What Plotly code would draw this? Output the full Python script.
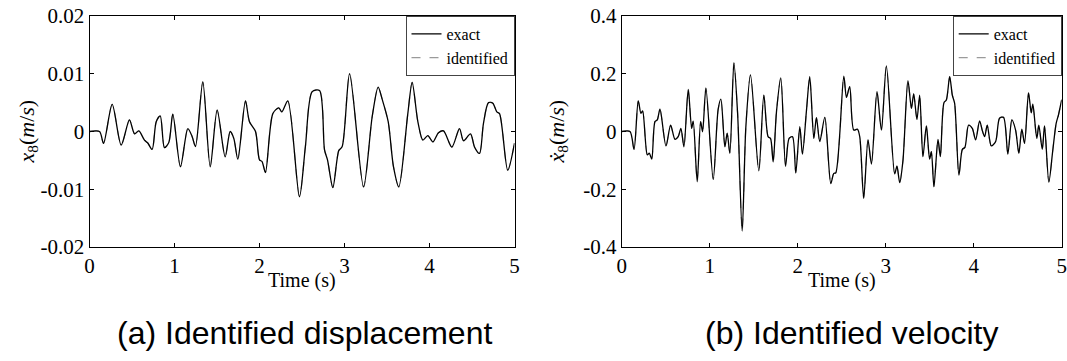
import plotly.graph_objects as go

# ---------------- data ----------------
time_disp = [0, 0.118, 0.165, 0.267, 0.373, 0.47, 0.53, 0.58, 0.647, 0.686, 0.737, 0.785, 0.832, 0.882,
             0.933, 0.98, 1.07, 1.157, 1.208, 1.247, 1.333, 1.42, 1.502, 1.596, 1.655, 1.698, 1.745,
             1.835, 1.882, 1.953, 2.0, 2.03, 2.07, 2.157, 2.227, 2.263, 2.333, 2.47, 2.54, 2.62, 2.706,
             2.765, 2.8, 2.863, 2.933, 2.973, 3.06, 3.224, 3.326, 3.396, 3.443, 3.514, 3.576, 3.639,
             3.745, 3.796, 3.863, 3.922, 3.98, 4.04, 4.106, 4.165, 4.263, 4.353, 4.4, 4.482, 4.53,
             4.588, 4.635, 4.694, 4.745, 4.792, 4.824, 4.92, 5.0]
disp_exact = [0, 0, -0.00204, 0.0047, -0.00234, 0.002, -0.0004, 0.0001, -0.0015, -0.002, -0.0031, 0.0017,
              0.0027, -0.0028, -0.0019, 0.003, -0.0061, 0.0005, -0.0009, -0.0026, 0.0086, -0.0061, 0.0037,
              -0.0044, 0.0, -0.0012, -0.0048, 0.0053, 0.0017, 0.0, -0.0049, -0.0052, -0.0071, 0.0031,
              0.0041, 0.0034, 0.0053, -0.0113, -0.0026, 0.0069, 0.0071, -0.0032, -0.0049, -0.0097,
              -0.0033, -0.0026, 0.01, -0.0096, 0.0026, 0.0077, 0.0056, 0.0017, -0.0061, -0.0096, 0.0031,
              0.0085, 0.0017, -0.0015, -0.0007, -0.0018, -0.0002, 0.0001, -0.0027, 0.0005, -0.0016,
              -0.0004, -0.0027, -0.0038, 0.0014, 0.005, 0.0049, 0.0034, 0.0031, -0.0067, -0.002]
disp_identified = list(disp_exact)

time_vel = [0, 0.094, 0.140, 0.188, 0.219, 0.238, 0.291, 0.313, 0.341, 0.378, 0.404, 0.435, 0.503, 0.556,
            0.605, 0.642, 0.673, 0.707, 0.756, 0.795, 0.813, 0.858, 0.897, 0.919, 0.957, 1.040, 1.096,
            1.127, 1.173, 1.199, 1.229, 1.275, 1.317, 1.369, 1.411, 1.464, 1.558, 1.615, 1.664, 1.691,
            1.721, 1.759, 1.808, 1.862, 1.902, 1.941, 1.978, 2.024, 2.054, 2.100, 2.137, 2.183, 2.213,
            2.251, 2.308, 2.376, 2.410, 2.433, 2.524, 2.554, 2.591, 2.637, 2.679, 2.705, 2.750, 2.799,
            2.838, 2.901, 2.951, 3.008, 3.102, 3.128, 3.159, 3.196, 3.253, 3.292, 3.318, 3.355, 3.386,
            3.423, 3.462, 3.499, 3.519, 3.548, 3.594, 3.621, 3.662, 3.689, 3.727, 3.757, 3.783, 3.832,
            3.871, 3.900, 3.942, 3.984, 4.022, 4.067, 4.098, 4.124, 4.154, 4.200, 4.249, 4.294, 4.339,
            4.388, 4.434, 4.476, 4.513, 4.547, 4.578, 4.623, 4.654, 4.672, 4.717, 4.740, 4.779, 4.805,
            4.854, 4.899, 4.937, 4.963, 5.0]
vel_exact = [0, 0, -0.062, 0.106, 0.063, 0.071, -0.081, -0.075, -0.095, 0.034, 0.040, 0.077, -0.050, 0.022,
             -0.027, -0.018, 0.011, -0.053, 0.146, 0.011, 0.036, -0.174, 0.034, -0.001, 0.150, -0.166,
             0.077, 0.112, -0.053, -0.006, -0.075, 0.238, 0.063, -0.345, 0.017, 0.196, -0.136, 0.126,
             -0.018, -0.024, -0.105, 0.069, 0.186, -0.120, -0.024, -0.018, -0.143, 0.017, -0.078, 0.074,
             0.190, -0.024, 0.048, -0.035, 0.049, -0.180, -0.145, -0.143, 0.192, 0.118, 0.155, 0.005,
             0.008, -0.018, -0.231, -0.029, -0.113, 0.138, 0.005, 0.227, -0.147, -0.120, -0.177, -0.101,
             0.176, 0.080, 0.130, 0.042, 0.126, -0.087, 0.019, -0.096, -0.070, -0.191, -0.027, -0.087,
             0.100, 0.109, 0.190, 0.126, 0.098, -0.151, -0.062, -0.055, 0.022, 0.011, -0.029, 0.037,
             0.003, -0.018, 0.022, -0.050, -0.035, 0.046, 0.049, -0.078, 0.040, 0.005, -0.075, 0.008,
             -0.041, 0.134, 0.065, 0.095, -0.024, 0.022, -0.062, 0.019, -0.175, -0.064, 0.028, 0.057,
             0.110]
vel_identified = list(vel_exact)

x_ticks = [0, 1, 2, 3, 4, 5]
disp_ticks = [-0.02, -0.01, 0, 0.01, 0.02]
disp_ticktext = ["-0.02", "-0.01", "0", "0.01", "0.02"]
vel_ticks = [-0.4, -0.2, 0, 0.2, 0.4]
vel_ticktext = ["-0.4", "-0.2", "0", "0.2", "0.4"]

# ---------------- layout helpers ----------------
W, H = 1067, 361
def px(x):
    return x / W
def py(y):
    return 1 - y / H

SERIF = "Liberation Serif"
SANS = "Liberation Sans"

fig = go.Figure()

line_exact = dict(color="black", width=1.3, shape="spline", smoothing=0.8)
line_ident = dict(color="#9a9a9a", width=1.2, dash="dash", shape="spline", smoothing=0.8)

fig.add_trace(go.Scatter(x=time_disp, y=disp_identified, mode="lines", name="identified",
                         line=line_ident, xaxis="x", yaxis="y", legend="legend", legendrank=2))
fig.add_trace(go.Scatter(x=time_disp, y=disp_exact, mode="lines", name="exact",
                         line=line_exact, xaxis="x", yaxis="y", legend="legend", legendrank=1))
fig.add_trace(go.Scatter(x=time_vel, y=vel_identified, mode="lines", name="identified",
                         line=line_ident, xaxis="x2", yaxis="y2", legend="legend2", legendrank=2))
fig.add_trace(go.Scatter(x=time_vel, y=vel_exact, mode="lines", name="exact",
                         line=line_exact, xaxis="x2", yaxis="y2", legend="legend2", legendrank=1))

ax_common = dict(showline=True, linecolor="black", linewidth=1, mirror="ticks", ticks="inside",
                 ticklen=4, tickcolor="black", showgrid=False, zeroline=False, automargin=False,
                 ticklabeloverflow="allow",
                 tickfont=dict(family=SERIF, size=21, color="black"))

left_x0, left_x1 = 89.5, 514.5
right_x0, right_x1 = 621.7, 1061.7
top_y, bot_y = 16, 247

legend_common = dict(xanchor="right", yanchor="top", bgcolor="white",
                     bordercolor="#444", borderwidth=1, font=dict(family=SERIF, size=16, color="black"),
                     tracegroupgap=0, itemwidth=30, traceorder="normal")

fig.update_layout(
    template="none",
    width=W, height=H, margin=dict(l=0, r=0, t=0, b=0, autoexpand=False),
    paper_bgcolor="white", plot_bgcolor="white",
    xaxis=dict(domain=[px(left_x0), px(left_x1)], range=[0, 5], tickvals=x_ticks, anchor="y", **ax_common),
    yaxis=dict(domain=[py(bot_y), py(top_y)], range=[-0.02, 0.02], tickvals=disp_ticks,
               ticktext=disp_ticktext, anchor="x", **ax_common),
    xaxis2=dict(domain=[px(right_x0), px(right_x1)], range=[0, 5], tickvals=x_ticks, anchor="y2", **ax_common),
    yaxis2=dict(domain=[py(bot_y), py(top_y)], range=[-0.4, 0.4], tickvals=vel_ticks,
                ticktext=vel_ticktext, anchor="x2", **ax_common),
    legend=dict(x=px(left_x1), y=py(top_y), **legend_common),
    legend2=dict(x=px(right_x1), y=py(top_y), **legend_common),
    showlegend=True,
)

annotations = [
    dict(text="<i>x</i><sub>8</sub>(<i>m</i>/<i>s</i>)", x=px(27), y=py((top_y + bot_y) / 2),
         textangle=-90, font=dict(family=SERIF, size=22, color="black")),
    dict(text="<i>ẋ</i><sub>8</sub>(<i>m</i>/<i>s</i>)", x=px(557), y=py((top_y + bot_y) / 2),
         textangle=-90, font=dict(family=SERIF, size=22, color="black")),
    dict(text="Time (s)", x=px((left_x0 + left_x1) / 2), y=py(280),
         font=dict(family=SERIF, size=20, color="black")),
    dict(text="Time (s)", x=px((right_x0 + right_x1) / 2), y=py(280),
         font=dict(family=SERIF, size=20, color="black")),
    dict(text="(a) Identified displacement", x=px(304), y=py(333),
         font=dict(family=SANS, size=32, color="black")),
    dict(text="(b) Identified velocity", x=px(851), y=py(333),
         font=dict(family=SANS, size=32, color="black")),
]
for a in annotations:
    a.update(xref="paper", yref="paper", showarrow=False, xanchor="center", yanchor="middle")
fig.update_layout(annotations=annotations)

fig.write_html("out.html", config={"displayModeBar": False},
               post_script="document.body.style.margin='0';document.body.style.overflow='hidden';")
